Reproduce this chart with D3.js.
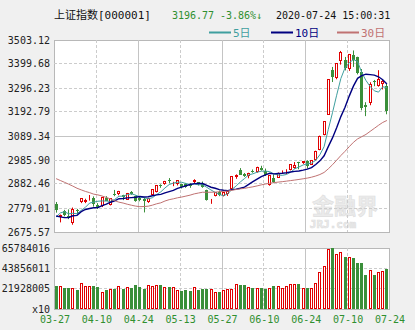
<!DOCTYPE html>
<html><head><meta charset="utf-8">
<script src="https://cdn.jsdelivr.net/npm/d3@7"></script>
<style>
html,body{margin:0;padding:0;background:#f0f0f0;}
svg{display:block;}
text{font-family:"DejaVu Sans Mono","Noto Sans CJK SC",monospace;}
</style></head><body>
<svg id="chart" width="415" height="330"></svg>
<script>
// Shanghai Composite daily candles, 2020-03-27 .. 2020-07-24
const dates = [
  "03-27","03-30","03-31","04-01","04-02","04-03","04-07","04-08","04-09","04-10",
  "04-13","04-14","04-15","04-16","04-17","04-20","04-21","04-22","04-23","04-24",
  "04-27","04-28","04-29","04-30","05-06","05-07","05-08","05-11","05-12","05-13",
  "05-14","05-15","05-18","05-19","05-20","05-21","05-22","05-25","05-26","05-27",
  "05-28","05-29","06-01","06-02","06-03","06-04","06-05","06-08","06-09","06-10",
  "06-11","06-12","06-15","06-16","06-17","06-18","06-19","06-22","06-23","06-24",
  "06-29","06-30","07-01","07-02","07-03","07-06","07-07","07-08","07-09","07-10",
  "07-13","07-14","07-15","07-16","07-17","07-20","07-21","07-22","07-23","07-24"];
const open = [
  2796,2739,2767,2743,2713,2771,2805,2806,2823,2822,
  2790,2786,2822,2792,2840,2839,2836,2815,2850,2831,
  2822,2818,2805,2834,2848,2879,2884,2901,2888,2882,
  2882,2883,2883,2893,2889,2881,2855,2812,2830,2847,
  2829,2838,2862,2913,2941,2926,2915,2940,2933,2953,
  2939,2880,2910,2909,2932,2933,2944,2950,2976,2975,
  2980,2966,2988,3029,3093,3182,3375,3340,3412,3418,
  3380,3439,3428,3366,3222,3232,3325,3307,3313,3303];
const high = [
  2805,2751,2771,2773,2781,2775,2821,2819,2835,2829,
  2800,2827,2830,2820,2857,2853,2836,2844,2852,2833,
  2829,2822,2823,2860,2878,2881,2896,2908,2892,2898,
  2883,2887,2886,2903,2890,2893,2858,2818,2847,2854,
  2849,2853,2917,2924,2951,2930,2931,2945,2957,2961,
  2949,2920,2924,2932,2941,2946,2968,2977,2978,2981,
  2985,2986,3026,3091,3153,3333,3387,3404,3456,3430,
  3443,3458,3431,3378,3235,3321,3331,3373,3335,3316];
const low = [
  2759,2717,2743,2731,2707,2753,2800,2800,2811,2785,
  2775,2783,2810,2790,2830,2834,2813,2814,2836,2806,
  2808,2760,2801,2834,2846,2866,2879,2886,2873,2876,
  2863,2866,2866,2885,2876,2866,2811,2797,2829,2830,
  2829,2831,2860,2905,2922,2913,2907,2931,2931,2940,
  2917,2875,2887,2909,2927,2925,2941,2948,2946,2969,
  2949,2966,2984,3028,3092,3180,3322,3334,3397,3372,
  3370,3387,3355,3200,3175,3222,3304,3302,3290,3183];
const close = [
  2772,2747,2750,2735,2776,2764,2820,2815,2826,2797,
  2783,2827,2811,2820,2838,2853,2827,2844,2839,2809,
  2815,2810,2822,2860,2878,2872,2895,2895,2892,2898,
  2870,2868,2875,2899,2884,2868,2814,2818,2847,2837,
  2846,2852,2915,2921,2923,2919,2931,2938,2956,2944,
  2921,2920,2890,2932,2936,2939,2968,2965,2971,2980,
  2962,2985,3026,3091,3153,3333,3345,3403,3451,3383,
  3443,3415,3361,3210,3214,3314,3321,3333,3325,3197];
const volume = [
  24800000,24800000,22600000,22600000,22600000,20500000,27700000,24800000,24800000,24800000,
  23700000,18300000,20500000,21600000,21600000,24800000,21600000,23700000,22600000,25900000,
  23700000,21600000,25900000,24800000,25900000,25900000,23700000,23700000,23700000,20500000,
  19800000,20500000,19800000,23700000,20500000,21600000,21600000,21600000,18300000,18300000,
  20500000,21600000,21600000,26600000,25900000,25900000,23700000,22600000,22600000,22600000,
  21600000,22600000,24800000,24800000,22600000,24800000,26600000,26600000,26600000,22400000,
  23000000,23000000,27700000,40200000,46400000,64700000,65784016,59300000,61800000,56400000,
  56100000,54700000,49300000,49300000,36700000,42100000,36700000,39600000,41000000,43100000];
// closes of the 29 sessions before 03-27, needed for the moving averages
const earlierCloses = [
  2984,2985,2975,3030,3040,3031,3013,2988,2991,2880,
  2971,2993,3012,3072,3035,2943,2997,2969,2923,2887,
  2789,2780,2729,2702,2746,2660,2722,2782,2765];
const priceTicks = [2675.57,2779.01,2882.46,2985.90,3089.34,3192.79,3296.23,3399.68,3503.12];
const maPeriods = [5, 10, 30];
const maNames = ["5日","10日","30日"];
const maColors = ["#3f9f9f","#000080","#c07272"];

const UP = "#e00000", DOWN = "#3a8f3a";
const svg = d3.select("#chart");
svg.append("rect").attr("width",415).attr("height",330).attr("fill","#f0f0f0");

const L = 54, R = 389;
const pTop = 40, pBot = 232, vTop = 248, vBot = 309;
const n = dates.length;
const x = d3.scaleLinear().domain([0, n]).range([L, R]);
const y = d3.scaleLinear().domain([priceTicks[0], priceTicks[priceTicks.length-1]]).range([pBot, pTop]);
const vmax = d3.max(volume);
const yv = d3.scaleLinear().domain([0, vmax]).range([vBot, vTop]);
const px = v => Math.round(v) + 0.5;

// panels
[[pTop,pBot],[vTop,vBot]].forEach(([t,b]) => {
  svg.append("rect").attr("x",L+0.5).attr("y",t+0.5).attr("width",R-L).attr("height",b-t)
    .attr("fill","#fff").attr("stroke","#b8b8b8");
});

// watermark
const wm = svg.append("g").attr("fill","#ebebeb").attr("stroke","#dedede").attr("stroke-width",0.6);
wm.append("text").attr("x",345).attr("y",214).attr("text-anchor","middle")
  .attr("font-size",22).attr("font-weight","bold").attr("font-family","Noto Sans CJK SC").text("金融界");
wm.append("text").attr("x",333).attr("y",228).attr("text-anchor","middle")
  .attr("font-size",11).attr("font-weight","bold").attr("font-family","DejaVu Sans").text("JRJ.com");

// grid
const grid = svg.append("g").attr("stroke-width",1).attr("fill","none");
d3.range(1, 8).forEach(k => {
  grid.append("line").attr("x1",px(x(k*10))).attr("x2",px(x(k*10)))
    .attr("y1",pTop).attr("y2",pBot).attr("stroke",k%2?"#cccccc":"#c4c4c4")
    .attr("stroke-dasharray",k%2?"3,2":null);
  grid.append("line").attr("x1",px(x(k*10))).attr("x2",px(x(k*10)))
    .attr("y1",vTop).attr("y2",vBot).attr("stroke",k%2?"#cccccc":"#c4c4c4")
    .attr("stroke-dasharray",k%2?"3,2":null);
});
priceTicks.slice(1,-1).forEach((t,k) => {
  const mid = k === 3;
  grid.append("line").attr("x1",L).attr("x2",R).attr("y1",px(y(t)-0.5)).attr("y2",px(y(t)-0.5))
    .attr("stroke",mid?"#c4c4c4":"#cccccc").attr("stroke-dasharray",mid?null:"3,2");
});
[1,2].forEach(k => {
  const v = yv(vmax*k/3);
  grid.append("line").attr("x1",L).attr("x2",R).attr("y1",px(v-0.5)).attr("y2",px(v-0.5))
    .attr("stroke","#cccccc").attr("stroke-dasharray","3,2");
});

// axis labels
const lab = svg.append("g").attr("font-size",10).attr("fill","#222").attr("text-anchor","end");
priceTicks.forEach(t => lab.append("text").attr("x",50).attr("y",y(t)+3.5).text(t.toFixed(2)));
[0,1,2,3].forEach(k => lab.append("text").attr("x",50).attr("y",yv(vmax*k/3)+3.5)
  .text(k===0 ? "x10" : String(Math.round(vmax*k/3))));
const dl = svg.append("g").attr("font-size",10).attr("fill","#2f8f2f").attr("text-anchor","middle");
d3.range(0, 9).forEach(k => dl.append("text").attr("x",x(k*10)+1).attr("y",323)
  .text(dates[Math.max(0, k*10-1)]));

// candles
const cg = svg.append("g");
dates.forEach((d,i) => {
  const c = Math.floor(x(i+0.5));
  const up = close[i] >= open[i];
  const col = up ? UP : DOWN;
  cg.append("line").attr("x1",c+0.5).attr("x2",c+0.5).attr("y1",y(high[i])).attr("y2",y(low[i]))
    .attr("stroke",col);
  const top = Math.round(y(Math.max(open[i],close[i])));
  const bot = Math.max(top+1, Math.round(y(Math.min(open[i],close[i]))));
  if (up) {
    cg.append("rect").attr("x",c-1+0.5).attr("y",top+0.5).attr("width",2).attr("height",Math.max(bot-top-1,0))
      .attr("fill","#fff").attr("stroke",UP);
  } else {
    cg.append("rect").attr("x",c-1).attr("y",top).attr("width",3).attr("height",Math.max(bot-top,1))
      .attr("fill",DOWN);
  }
  // volume
  const vt = Math.round(yv(volume[i]));
  if (up) {
    cg.append("rect").attr("x",c-1+0.5).attr("y",vt+0.5).attr("width",2).attr("height",vBot-vt-1)
      .attr("fill","#fff").attr("stroke",UP);
  } else {
    cg.append("rect").attr("x",c-1).attr("y",vt).attr("width",3).attr("height",vBot-vt)
      .attr("fill",DOWN);
  }
});

// moving averages
const allCloses = earlierCloses.concat(close);
const off = earlierCloses.length;
const line = d3.line().x((d,i) => x(i+0.5)).y(d => y(d));
maPeriods.forEach((p,j) => {
  const ma = close.map((_,i) => d3.mean(allCloses.slice(off+i-p+1, off+i+1)));
  svg.append("path").attr("d",line(ma)).attr("fill","none")
    .attr("stroke",maColors[j]).attr("stroke-width",j===1?1.4:1);
});

// header
const hd = svg.append("g").attr("font-size",11);
hd.append("text").attr("x",54).attr("y",19).attr("fill","#111").text("上证指数[000001]");
hd.append("text").attr("x",172).attr("y",19).attr("fill","#2f8f2f").attr("font-size",10).text("3196.77");
hd.append("text").attr("x",220).attr("y",19).attr("fill","#2f8f2f").attr("font-size",10).text("-3.86%↓");
hd.append("text").attr("x",276).attr("y",19).attr("fill","#111").attr("font-size",10).text("2020-07-24 15:00:31");

// legend
const lx = [209, 271, 337];
maNames.forEach((nm,j) => {
  svg.append("line").attr("x1",lx[j]).attr("x2",lx[j]+22).attr("y1",32.5).attr("y2",32.5)
    .attr("stroke",maColors[j]).attr("stroke-width",2);
  svg.append("text").attr("x",lx[j]+24).attr("y",37).attr("font-size",11)
    .attr("fill",maColors[j]).text(nm);
});
</script>
</body></html>
